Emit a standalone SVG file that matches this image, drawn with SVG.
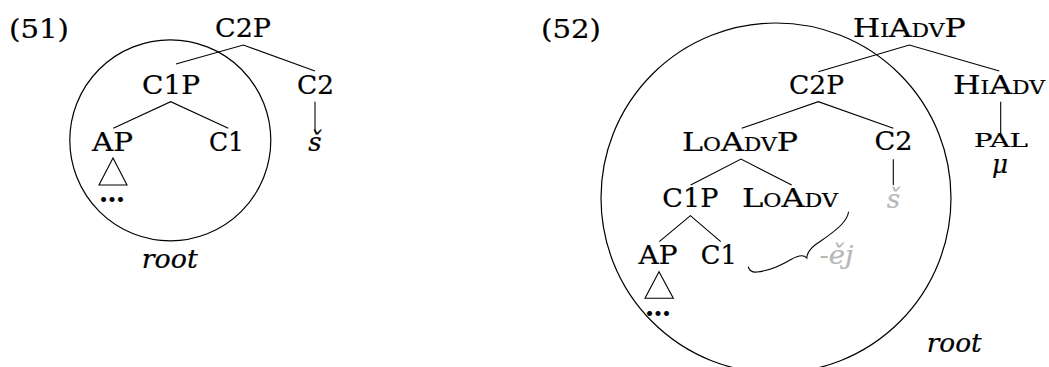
<svg xmlns="http://www.w3.org/2000/svg" width="1049" height="367" viewBox="0 0 1049 367">
<style>
  text { font-family: "DejaVu Serif", "Liberation Serif", serif; font-size: 26px; fill: #000; stroke: #000; stroke-width: 0.22px; }
  .c { text-anchor: middle; }
  .it { font-style: italic; }
  .sc { font-size: 18px; }
  .gray { fill: #b8b8b8; stroke: #b8b8b8; }
  .edge { stroke: #000; stroke-width: 1.1; fill: none; }
  .ring { stroke: #000; stroke-width: 1.2; fill: none; }
</style>
<rect width="1049" height="367" fill="#fff"/>

<!-- (51) -->
<g id="ex51">
  <text x="9" y="37.7" textLength="60" lengthAdjust="spacingAndGlyphs">(51)</text>
  <circle class="ring" cx="170.3" cy="140.3" r="100.5"/>
  <text class="c it" x="169.7" y="268.3" textLength="56" lengthAdjust="spacingAndGlyphs">root</text>
</g>
<g id="L-C2P"><text class="c" x="243" y="37.3" textLength="56" lengthAdjust="spacingAndGlyphs">C2P</text></g>
<g id="L-C1P"><text class="c" x="171" y="94" textLength="58" lengthAdjust="spacingAndGlyphs">C1P</text></g>
<g id="L-C2"><text class="c" x="315.5" y="94" textLength="37" lengthAdjust="spacingAndGlyphs">C2</text></g>
<g id="L-AP"><text class="c" x="112.5" y="150.7" textLength="41" lengthAdjust="spacingAndGlyphs">AP</text></g>
<g id="L-C1"><text class="c" x="226.5" y="150.7" textLength="35" lengthAdjust="spacingAndGlyphs">C1</text></g>
<g id="L-s"><text class="c it" x="315" y="150.5">š</text></g>
<g id="L-dots"><text class="c" x="112" y="201.5" font-weight="bold" textLength="26" lengthAdjust="spacingAndGlyphs">…</text></g>

<!-- (52) -->
<g id="ex52">
  <text x="541" y="37.5" textLength="60" lengthAdjust="spacingAndGlyphs">(52)</text>
  <circle class="ring" cx="776" cy="198" r="175"/>
  <text class="c it" x="954.2" y="351.7" textLength="55" lengthAdjust="spacingAndGlyphs">root</text>
</g>
<g id="R-HiAdvP"><text class="c" x="909.2" y="36.7" textLength="113" lengthAdjust="spacingAndGlyphs">H<tspan class="sc">I</tspan>A<tspan class="sc">DV</tspan>P</text></g>
<g id="R-C2P"><text class="c" x="816.5" y="94" textLength="55" lengthAdjust="spacingAndGlyphs">C2P</text></g>
<g id="R-HiAdv"><text class="c" x="999" y="94" textLength="92" lengthAdjust="spacingAndGlyphs">H<tspan class="sc">I</tspan>A<tspan class="sc">DV</tspan></text></g>
<g id="R-PAL"><text class="c sc" x="1001" y="146.8" textLength="54" lengthAdjust="spacingAndGlyphs">PAL</text></g>
<g id="R-mu"><text class="c it" x="1000" y="173" font-size="21" textLength="16" lengthAdjust="spacingAndGlyphs">μ</text></g>
<g id="R-LoAdvP"><text class="c" x="740" y="150.5" textLength="116" lengthAdjust="spacingAndGlyphs">L<tspan class="sc">O</tspan>A<tspan class="sc">DV</tspan>P</text></g>
<g id="R-C2"><text class="c" x="893.5" y="150.3" textLength="38" lengthAdjust="spacingAndGlyphs">C2</text></g>
<g id="R-s"><text class="c it gray" x="893.5" y="208">š</text></g>
<g id="R-C1P"><text class="c" x="690.3" y="207.3" textLength="56" lengthAdjust="spacingAndGlyphs">C1P</text></g>
<g id="R-LoAdv"><text class="c" x="790" y="207.3" textLength="96" lengthAdjust="spacingAndGlyphs">L<tspan class="sc">O</tspan>A<tspan class="sc">DV</tspan></text></g>
<g id="R-AP"><text class="c" x="658" y="264" textLength="39" lengthAdjust="spacingAndGlyphs">AP</text></g>
<g id="R-C1"><text class="c" x="718.8" y="264" textLength="36" lengthAdjust="spacingAndGlyphs">C1</text></g>
<g id="R-ej"><text class="c it gray" x="836.5" y="264" textLength="34" lengthAdjust="spacingAndGlyphs">-ěj</text></g>
<g id="R-dots"><text class="c" x="658" y="315.5" font-weight="bold" textLength="26" lengthAdjust="spacingAndGlyphs">…</text></g>

<g id="connectors">
  <!-- left tree -->
  <polyline class="edge" points="176,64 243.3,45 315,71"/>
  <polyline class="edge" points="113.3,128.3 170.7,101.7 228.3,128.3"/>
  <line class="edge" x1="315" y1="101.7" x2="315" y2="131.5"/>
  <polygon class="edge" points="113,158 99,185 127,185"/>
  <!-- right tree -->
  <polyline class="edge" points="818.3,71.7 909.3,45 999.3,71"/>
  <polyline class="edge" points="741.7,128.3 818.3,101.7 893.3,128.3"/>
  <line class="edge" x1="1000.7" y1="101.7" x2="1000.7" y2="133"/>
  <polyline class="edge" points="690.7,185 741,159 791.7,185"/>
  <line class="edge" x1="893.3" y1="159.3" x2="893.3" y2="185"/>
  <polyline class="edge" points="659.3,241.7 690.4,215.6 720.7,241.7"/>
  <polygon class="edge" points="659,271.7 645,298.3 673.3,298.3"/>
  <!-- brace -->
  <path class="edge" stroke-width="1.8" stroke-linecap="round" d="M748.3,267 C749.5,271 752,272.5 757,272 C768,271 780,266 791,259.5 C797,256 803,253.5 806.8,258 C807,252.5 810,249 815,245 C825,238 836,231 842,224 C846,219.5 848,216.5 848.5,212"/>
</g>
</svg>
